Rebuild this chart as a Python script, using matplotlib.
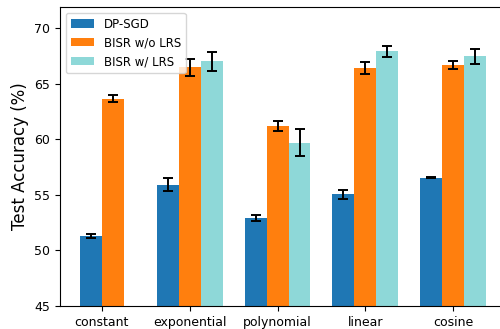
import matplotlib
matplotlib.use("Agg")
import matplotlib.pyplot as plt
import numpy as np

schedules = ["constant", "exponential", "polynomial", "linear", "cosine"]
series = ["DP-SGD", "BISR w/o LRS", "BISR w/ LRS"]

dp_sgd = [51.3, 55.9, 52.9, 55.05, 56.55]
dp_sgd_err = [0.15, 0.6, 0.25, 0.4, 0.05]
bisr_no_lrs = [63.65, 66.45, 61.15, 66.4, 66.65]
bisr_no_lrs_err = [0.3, 0.75, 0.45, 0.55, 0.35]
# constant schedule has no LRS variant
bisr_lrs = [np.nan, 67.0, 59.7, 67.9, 67.45]
bisr_lrs_err = [np.nan, 0.85, 1.2, 0.5, 0.65]

COLORS = ["#1f77b4", "#ff7f0e", "#8ed8d8"]


def main() -> None:
    fig = plt.figure(figsize=(5.0, 3.29), dpi=100)
    ax = fig.add_axes([0.12, 0.07, 0.894, 0.909])

    w = 0.25
    x = np.arange(len(schedules), dtype=float)
    # constant: two bars centred on the tick; others: three bars
    off_blue = np.where(np.isnan(bisr_lrs), -w / 2, -w)
    off_orange = np.where(np.isnan(bisr_lrs), w / 2, 0.0)
    off_cyan = np.full(len(x), w)

    ekw = dict(elinewidth=1.4, capthick=1.4, ecolor="black")
    ax.bar(x + off_blue, dp_sgd, w, yerr=dp_sgd_err, capsize=3.8,
           color=COLORS[0], label=series[0], error_kw=ekw)
    ax.bar(x + off_orange, bisr_no_lrs, w, yerr=bisr_no_lrs_err, capsize=3.8,
           color=COLORS[1], label=series[1], error_kw=ekw)
    mask = ~np.isnan(bisr_lrs)
    ax.bar((x + off_cyan)[mask], np.array(bisr_lrs)[mask], w,
           yerr=np.array(bisr_lrs_err)[mask], capsize=3.8,
           color=COLORS[2], label=series[2], error_kw=ekw)

    ax.set_xticks(x)
    ax.set_xticklabels(schedules, fontsize=9)
    ax.tick_params(axis="y", labelsize=9)
    ax.set_ylim(45, 71.9)
    ax.set_yticks([45, 50, 55, 60, 65, 70])
    ax.set_xlim(-0.474, 4.61)
    ax.set_ylabel("Test Accuracy (%)", fontsize=12)
    ax.legend(loc="upper left", fontsize=8.5)
    fig.savefig("out.png", dpi=100)


if __name__ == "__main__":
    main()
